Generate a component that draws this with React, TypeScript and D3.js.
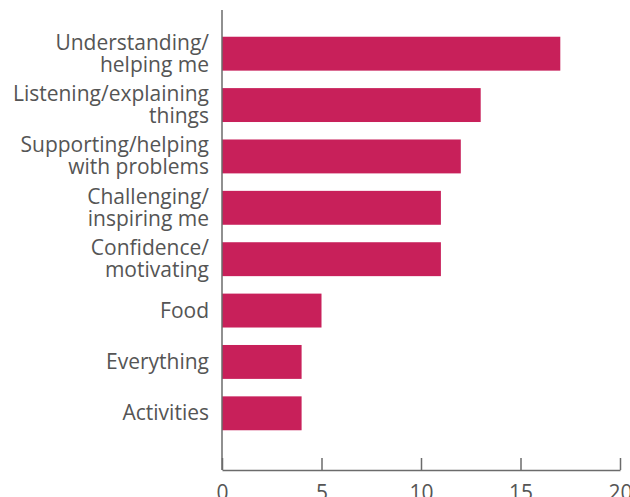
import React, { useEffect, useRef } from 'react';
import * as d3 from 'd3';

const categories = [
    ['Understanding/', 'helping me'],
    ['Listening/explaining', 'things'],
    ['Supporting/helping', 'with problems'],
    ['Challenging/', 'inspiring me'],
    ['Confidence/', 'motivating'],
    ['Food'],
    ['Everything'],
    ['Activities'],
];
const values = [17, 13, 12, 11, 11, 5, 4, 4];
const xTicks = [0, 5, 10, 15, 20];

const App = () => {
    const svgRef = useRef(null);

    useEffect(() => {
        if (!svgRef.current) return;
        const svg = d3.select(svgRef.current);
        svg.selectAll('*').remove();

        const font = "'Open Sans', sans-serif";
        const textColor = '#555';
        const axisColor = '#6b6b6b';

        const xScale = d3.scaleLinear().domain([0, 20]).range([222, 620]);
        const yScale = d3.scaleBand<number>()
            .domain(d3.range(values.length))
            .range([28, 439])
            .paddingInner(0.34)
            .paddingOuter(0.17);

        // Bars
        svg.append('g')
            .selectAll('rect')
            .data(values)
            .join('rect')
            .attr('x', xScale(0))
            .attr('y', (d, i) => yScale(i))
            .attr('width', d => xScale(d) - xScale(0))
            .attr('height', yScale.bandwidth())
            .attr('fill', '#c8205a');

        // Category labels (right aligned, wrapped)
        const lineH = 22;
        categories.forEach((lines, i) => {
            const cy = yScale(i) + yScale.bandwidth() / 2;
            const t = svg.append('text')
                .attr('text-anchor', 'end')
                .attr('font-family', font)
                .attr('font-size', '21px')
                .attr('fill', textColor);
            lines.forEach((line, j) => {
                t.append('tspan')
                    .attr('x', 209)
                    .attr('y', cy + (j - (lines.length - 1) / 2) * lineH + 7)
                    .text(line);
            });
        });

        // Y axis line
        svg.append('line')
            .attr('x1', xScale(0))
            .attr('x2', xScale(0))
            .attr('y1', 10)
            .attr('y2', 470)
            .attr('stroke', axisColor)
            .attr('stroke-width', 1.5);

        // X axis, ticks pointing up
        const xAxis = d3.axisTop(xScale)
            .tickValues(xTicks)
            .tickSize(12)
            .tickSizeOuter(0)
            .tickFormat(d => String(d));
        const gx = svg.append('g')
            .attr('transform', 'translate(0,470)')
            .call(xAxis);
        gx.select('.domain').attr('stroke', axisColor).attr('stroke-width', 1.5);
        gx.selectAll('line').attr('stroke', axisColor).attr('stroke-width', 1.5);
        gx.selectAll('text')
            .attr('y', 30)
            .attr('dy', 0)
            .attr('font-family', font)
            .attr('font-size', '21px')
            .attr('fill', textColor);
    }, []);

    return (
        <svg ref={svgRef} width={630} height={497} style={{ position: 'absolute', left: 0, top: 0 }} />
    );
};

export default App;
